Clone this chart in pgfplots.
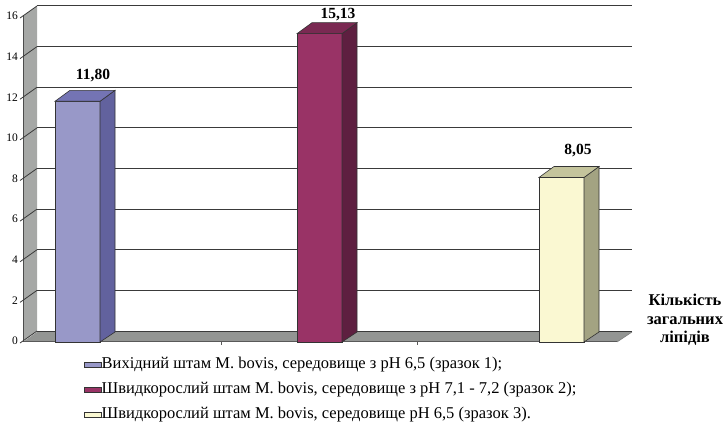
\documentclass[border=0pt]{standalone}
\usepackage{pgfplots}
\pgfplotsset{compat=1.18}
\usepackage{fontspec}
\setmainfont{Liberation Serif}
\definecolor{bAfront}{HTML}{9898C8}
\definecolor{bAside}{HTML}{62629E}
\definecolor{bAtop}{HTML}{7474B4}
\definecolor{bBfront}{HTML}{993366}
\definecolor{bBside}{HTML}{5E1F40}
\definecolor{bBtop}{HTML}{7A2952}
\definecolor{bCfront}{HTML}{FAF8D2}
\definecolor{bCside}{HTML}{A3A382}
\definecolor{bCtop}{HTML}{C4C49C}
\definecolor{wallgray}{HTML}{A6A8A6}
\definecolor{floorgray}{HTML}{939593}
\definecolor{gridc}{HTML}{3A3A3A}
\begin{document}
\begin{tikzpicture}
\path[use as bounding box] (0,0) rectangle (725pt,438pt);
\begin{axis}[
  at={(0,0)}, anchor=south west,
  scale only axis, width=725pt, height=438pt,
  xmin=0, xmax=725, ymin=-4.775, ymax=16.787,
  enlargelimits=false, clip=false,
  axis line style={draw=none},
  xtick=\empty, ytick={0,2,...,16},
  major tick length=0pt,
  /pgf/number format/assume math mode=true,
  yticklabel style={anchor=east, xshift=18pt, inner sep=0pt, font=\fontsize{11.5}{12}\selectfont},
  legend style={at={(axis cs:84,-2.40)}, anchor=west, draw=none, fill=none,
    inner sep=0pt, outer sep=0pt, row sep=10.5pt,
    font=\fontsize{16.5}{18}\selectfont,
    cells={anchor=west},
    nodes={inner sep=0pt, text height=11pt, text depth=3.5pt},
    /tikz/every even column/.append style={column sep=2pt}},
  legend image code/.code={\draw[#1, draw=black!75, line width=0.6pt] (0pt,-4.5pt) rectangle (9pt,4.5pt);},
]
% floor
\addplot[fill=floorgray, draw=none, forget plot] coordinates {(23,-0.049) (617,-0.049) (632,0.443) (37,0.443)} --cycle;
\addplot[draw=black!65, line width=1pt, forget plot] coordinates {(23,-0.049) (617,-0.049)};
\addplot[draw=black!50, line width=0.6pt, forget plot] coordinates {(617,-0.049) (632,0.443)};
% left wall
\addplot[fill=wallgray, draw=none, forget plot] coordinates {(23,0) (37,0.492) (37,16.492) (23,16)} --cycle;
\addplot[draw=black!70, line width=0.8pt, forget plot] coordinates {(23,-0.049) (23,16)};
% back wall grid lines
\pgfplotsinvokeforeach{0,2,...,16}{
  \addplot[draw=gridc, line width=1pt, forget plot] coordinates {(37,#1+0.492) (632,#1+0.492)};
  \addplot[draw=gridc, line width=0.8pt, forget plot] coordinates {(20,#1-0.1) (37,#1+0.492)};
}
% category ticks on floor edge
\addplot[draw=black!65, line width=0.6pt, forget plot] coordinates {(221,-0.049) (221,-0.2)};
\addplot[draw=black!65, line width=0.6pt, forget plot] coordinates {(417,-0.049) (417,-0.2)};
% bar 1: 11.80
\addplot[fill=bAfront, draw=black!80, line width=0.6pt, area legend] coordinates {(55,-0.049) (100,-0.049) (100,11.80) (55,11.80)} --cycle;
\addlegendentry{Вихідний штам M. bovis, середовище з pH 6,5 (зразок 1);}
\addplot[fill=bAside, draw=black!80, line width=0.6pt, forget plot] coordinates {(100,-0.049) (115,0.443) (115,12.34) (100,11.80)} --cycle;
\addplot[fill=bAtop, draw=black!80, line width=0.6pt, forget plot] coordinates {(55,11.80) (70,12.34) (115,12.34) (100,11.80)} --cycle;
% bar 2: 15.13
\addplot[fill=bBfront, draw=black!80, line width=0.6pt, area legend] coordinates {(297,-0.049) (342,-0.049) (342,15.13) (297,15.13)} --cycle;
\addlegendentry{Швидкорослий штам M. bovis, середовище з pH 7,1 - 7,2 (зразок 2);}
\addplot[fill=bBside, draw=black!80, line width=0.6pt, forget plot] coordinates {(342,-0.049) (357,0.443) (357,15.67) (342,15.13)} --cycle;
\addplot[fill=bBtop, draw=black!80, line width=0.6pt, forget plot] coordinates {(297,15.13) (312,15.67) (357,15.67) (342,15.13)} --cycle;
% bar 3: 8.05
\addplot[fill=bCfront, draw=black!80, line width=0.6pt, area legend] coordinates {(539,-0.049) (584,-0.049) (584,8.05) (539,8.05)} --cycle;
\addlegendentry{Швидкорослий штам M. bovis, середовище pH 6,5 (зразок 3).}
\addplot[fill=bCside, draw=black!80, line width=0.6pt, forget plot] coordinates {(584,-0.049) (599,0.443) (599,8.59) (584,8.05)} --cycle;
\addplot[fill=bCtop, draw=black!80, line width=0.6pt, forget plot] coordinates {(539,8.05) (554,8.59) (599,8.59) (584,8.05)} --cycle;
% value labels
\node[anchor=base, font=\bfseries\fontsize{15.5}{17}\selectfont] at (axis cs:93,12.85) {11,80};
\node[anchor=base, font=\bfseries\fontsize{15.5}{17}\selectfont] at (axis cs:338,15.90) {15,13};
\node[anchor=base, font=\bfseries\fontsize{15.5}{17}\selectfont] at (axis cs:578,9.16) {8,05};
% axis title
\node[align=center, font=\bfseries\fontsize{16.5}{18.5}\selectfont] at (axis cs:685,1.03) {Кількість\\загальних\\ліпідів};
\end{axis}
\end{tikzpicture}
\end{document}
